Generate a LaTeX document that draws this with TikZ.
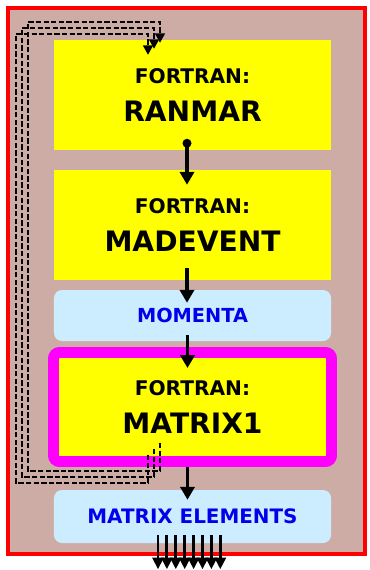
\documentclass[tikz,border=0pt]{standalone}
\usepackage{fontspec}
\setmainfont{DejaVu Sans}
\usetikzlibrary{calc}
\usetikzlibrary{positioning}
\usetikzlibrary{arrows.meta}
\definecolor{casing}{RGB}{204,172,164}
\definecolor{panelblue}{RGB}{204,236,255}
\definecolor{labelblue}{RGB}{0,0,235}
\definecolor{codeyellow}{RGB}{255,255,0}
\definecolor{framepink}{RGB}{255,0,255}
\definecolor{casered}{RGB}{255,0,0}
\newcommand{\codelabel}[1]{\fontsize{17.2}{20}\selectfont FORTRAN:\\[13pt]\fontsize{24}{29}\selectfont #1}

\begin{document}
\begin{tikzpicture}[x=0.03cm, y=-0.03cm,
        codebox/.style={fill=codeyellow, minimum width=8.31cm, minimum height=3.3cm, align=center, inner sep=0pt, font=\bfseries},
        databox/.style={fill=panelblue, rounded corners=0.24cm, minimum width=8.31cm, inner sep=0pt, text=labelblue, font=\fontsize{16.5}{20}\selectfont\bfseries},
        flow/.style={line width=2.8pt, -{Triangle[width=12pt,length=11pt]}},
        outflow/.style={line width=2.4pt, -{Triangle[width=9.5pt,length=10pt]}},
        backloop/.style={line width=1.3pt, dash pattern=on 4.5pt off 2pt, -{Triangle[width=8.5pt,length=8pt]}}]
    \useasboundingbox (0,0) rectangle (369,570);

    % Casing
    \draw[casered, line width=3.4pt, fill=casing] (8,8) rectangle (365,554);

    % Program blocks
    \node[codebox] (ranmar) at (192.5,95) {\codelabel{RANMAR}};
    \node[codebox] (madevent) at (192.5,225) {\codelabel{MADEVENT}};
    \node[databox, minimum height=1.53cm] (momenta) at (192.5,315.5) {MOMENTA};
    \node[codebox, draw=framepink, line width=9.3pt, rounded corners=0.18cm, minimum width=8.34cm, minimum height=3.27cm] (matrix1) at (192.5,407) {\codelabel{MATRIX1}};
    \node[databox, minimum height=1.59cm, font=\fontsize{17}{20}\selectfont\bfseries] (matelem) at (192.5,516.5) {MATRIX ELEMENTS};

    % Main flow
    \node[circle, fill=black, inner sep=0pt, minimum size=0.27cm] (ranmarout) at ($(ranmar.south)+(-5.5,-7)$) {};
    \draw[flow] (ranmarout.center) -- ($(madevent.north)+(-5.5,15)$);
    \draw[flow] ($(madevent.south)+(-5.5,-12)$) -- ($(momenta.north)+(-5.5,13)$);
    \draw[flow] ($(momenta.south)+(-5,-6)$) -- ($(matrix1.north)+(-5,21)$);
    \draw[flow] ($(matrix1.south)+(-5,0)$) -- ($(matelem.north)+(-5,10)$);

    % Feedback to the random numbers
    \foreach \k in {0,1,2} {
        \draw[backloop] ($(matrix1.south)+(-44.5+6*\k,-12-6*\k)$) -- ++(0,28)
            -| (16+6*\k,34-6*\k) -| ($(ranmar.north)+(-44.5+6*\k,15-6*\k)$);
    }

    % Output
    \foreach \i in {0,...,7} {
        \draw[outflow] ($(matelem.south)+(-34.5+8.9*\i,-8)$) -- ++(0,34);
    }
\end{tikzpicture}
\end{document}
